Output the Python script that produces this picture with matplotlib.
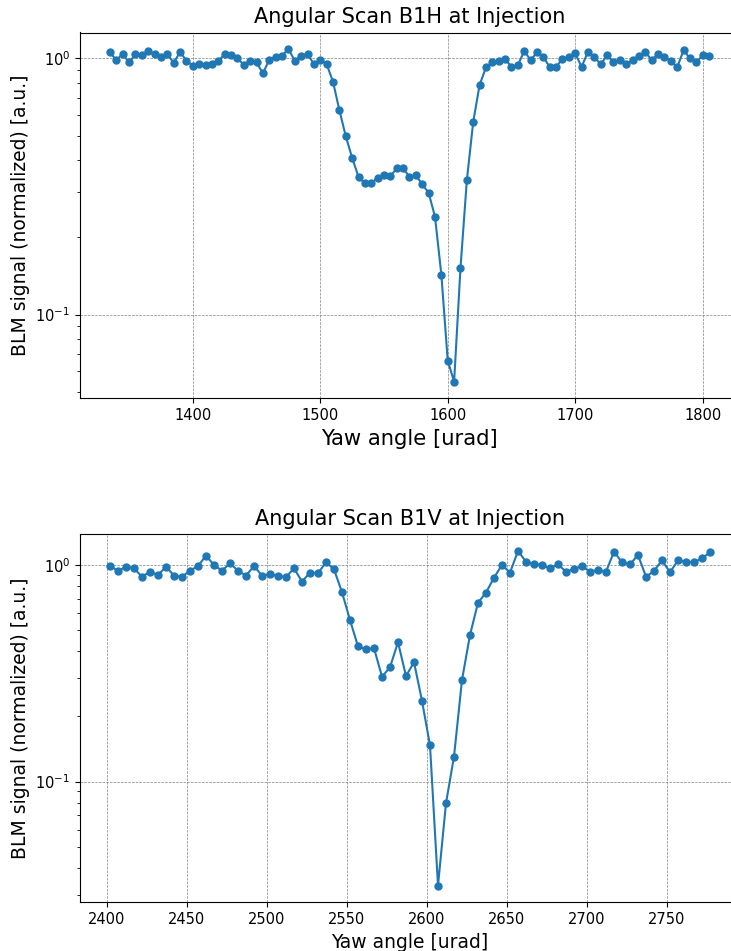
import numpy as np
import matplotlib
matplotlib.use("Agg")
import matplotlib.pyplot as plt

# ---- Data: B1H scan (top) ----
h_start = 1335
h_step = 5
h_signal = [
    1.055, 0.985, 1.04, 0.965, 1.037, 1.03, 1.07, 1.04, 1.01, 1.04,
    0.96, 1.06, 0.98, 0.935, 0.95, 0.945, 0.955, 0.98, 1.037, 1.03,
    1.0, 0.945, 0.98, 0.965, 0.874, 0.99, 1.015, 1.025, 1.087, 0.98,
    1.025, 1.04, 0.95, 0.99, 0.95, 0.81, 0.628, 0.497, 0.409, 0.345,
    0.325, 0.325, 0.342, 0.352, 0.347, 0.372, 0.372, 0.345, 0.35, 0.322,
    0.299, 0.241, 0.143, 0.066, 0.0547, 0.152, 0.335, 0.566, 0.788, 0.922,
    0.965, 0.979, 0.994, 0.927, 0.939, 1.07, 0.985, 1.055, 1.01, 0.927,
    0.927, 0.994, 1.015, 1.046, 0.927, 1.06, 1.015, 0.947, 1.03, 0.965,
    0.985, 0.95, 0.985, 1.025, 1.06, 0.985, 1.04, 1.01, 0.98, 0.922,
    1.077, 1.0, 0.965, 1.03, 1.025,
]
h_angle = [h_start + h_step * i for i in range(len(h_signal))]

# ---- Data: B1V scan (bottom) ----
v_start = 2402
v_step = 5
v_signal = [
    0.993, 0.938, 0.982, 0.965, 0.883, 0.931, 0.899, 0.982, 0.893, 0.883,
    0.941, 0.989, 1.104, 1.0, 0.941, 1.018, 0.941, 0.893, 0.989, 0.893,
    0.906, 0.893, 0.88, 0.965, 0.838, 0.922, 0.916, 1.029, 0.955, 0.748,
    0.557, 0.421, 0.408, 0.413, 0.305, 0.337, 0.44, 0.307, 0.356, 0.236,
    0.147, 0.0331, 0.0795, 0.1304, 0.2946, 0.475, 0.67, 0.745, 0.874, 1.0,
    0.922, 1.16, 1.036, 1.01, 1.0, 0.965, 1.007, 0.931, 0.958, 0.989,
    0.931, 0.948, 0.931, 1.152, 1.029, 1.007, 1.112, 0.883, 0.938, 1.051,
    0.925, 1.051, 1.036, 1.029, 1.074, 1.144,
]
v_angle = [v_start + v_step * i for i in range(len(v_signal))]

titles = ["Angular Scan B1H at Injection", "Angular Scan B1V at Injection"]
xlabel = "Yaw angle [urad]"
ylabel = "BLM signal (normalized) [a.u.]"

W, H = 731, 951
fig = plt.figure(figsize=(W / 100, H / 100), dpi=100)

ax1 = fig.add_axes([80 / W, (H - 398.3) / H, 659 / W, 365.8 / H])
ax2 = fig.add_axes([80 / W, (H - 902.3) / H, 660 / W, 368.0 / H])

configs = [
    (ax1, h_angle, h_signal, titles[0], 15.2),
    (ax2, v_angle, v_signal, titles[1], 13.5),
]
for ax, x, y, title, xl_size in configs:
    ax.plot(x, y, marker="o", color="#1f77b4", markersize=5, linewidth=1.5)
    ax.set_yscale("log")
    ax.grid(True, which="major", linestyle="--", linewidth=0.5, color="gray")
    ax.set_title(title, fontsize=15, pad=7)
    ax.set_xlabel(xlabel, fontsize=xl_size)
    ax.set_ylabel(ylabel, fontsize=13.5)
    ax.tick_params(labelsize=10.5)

fig.savefig("out.png", dpi=100)
